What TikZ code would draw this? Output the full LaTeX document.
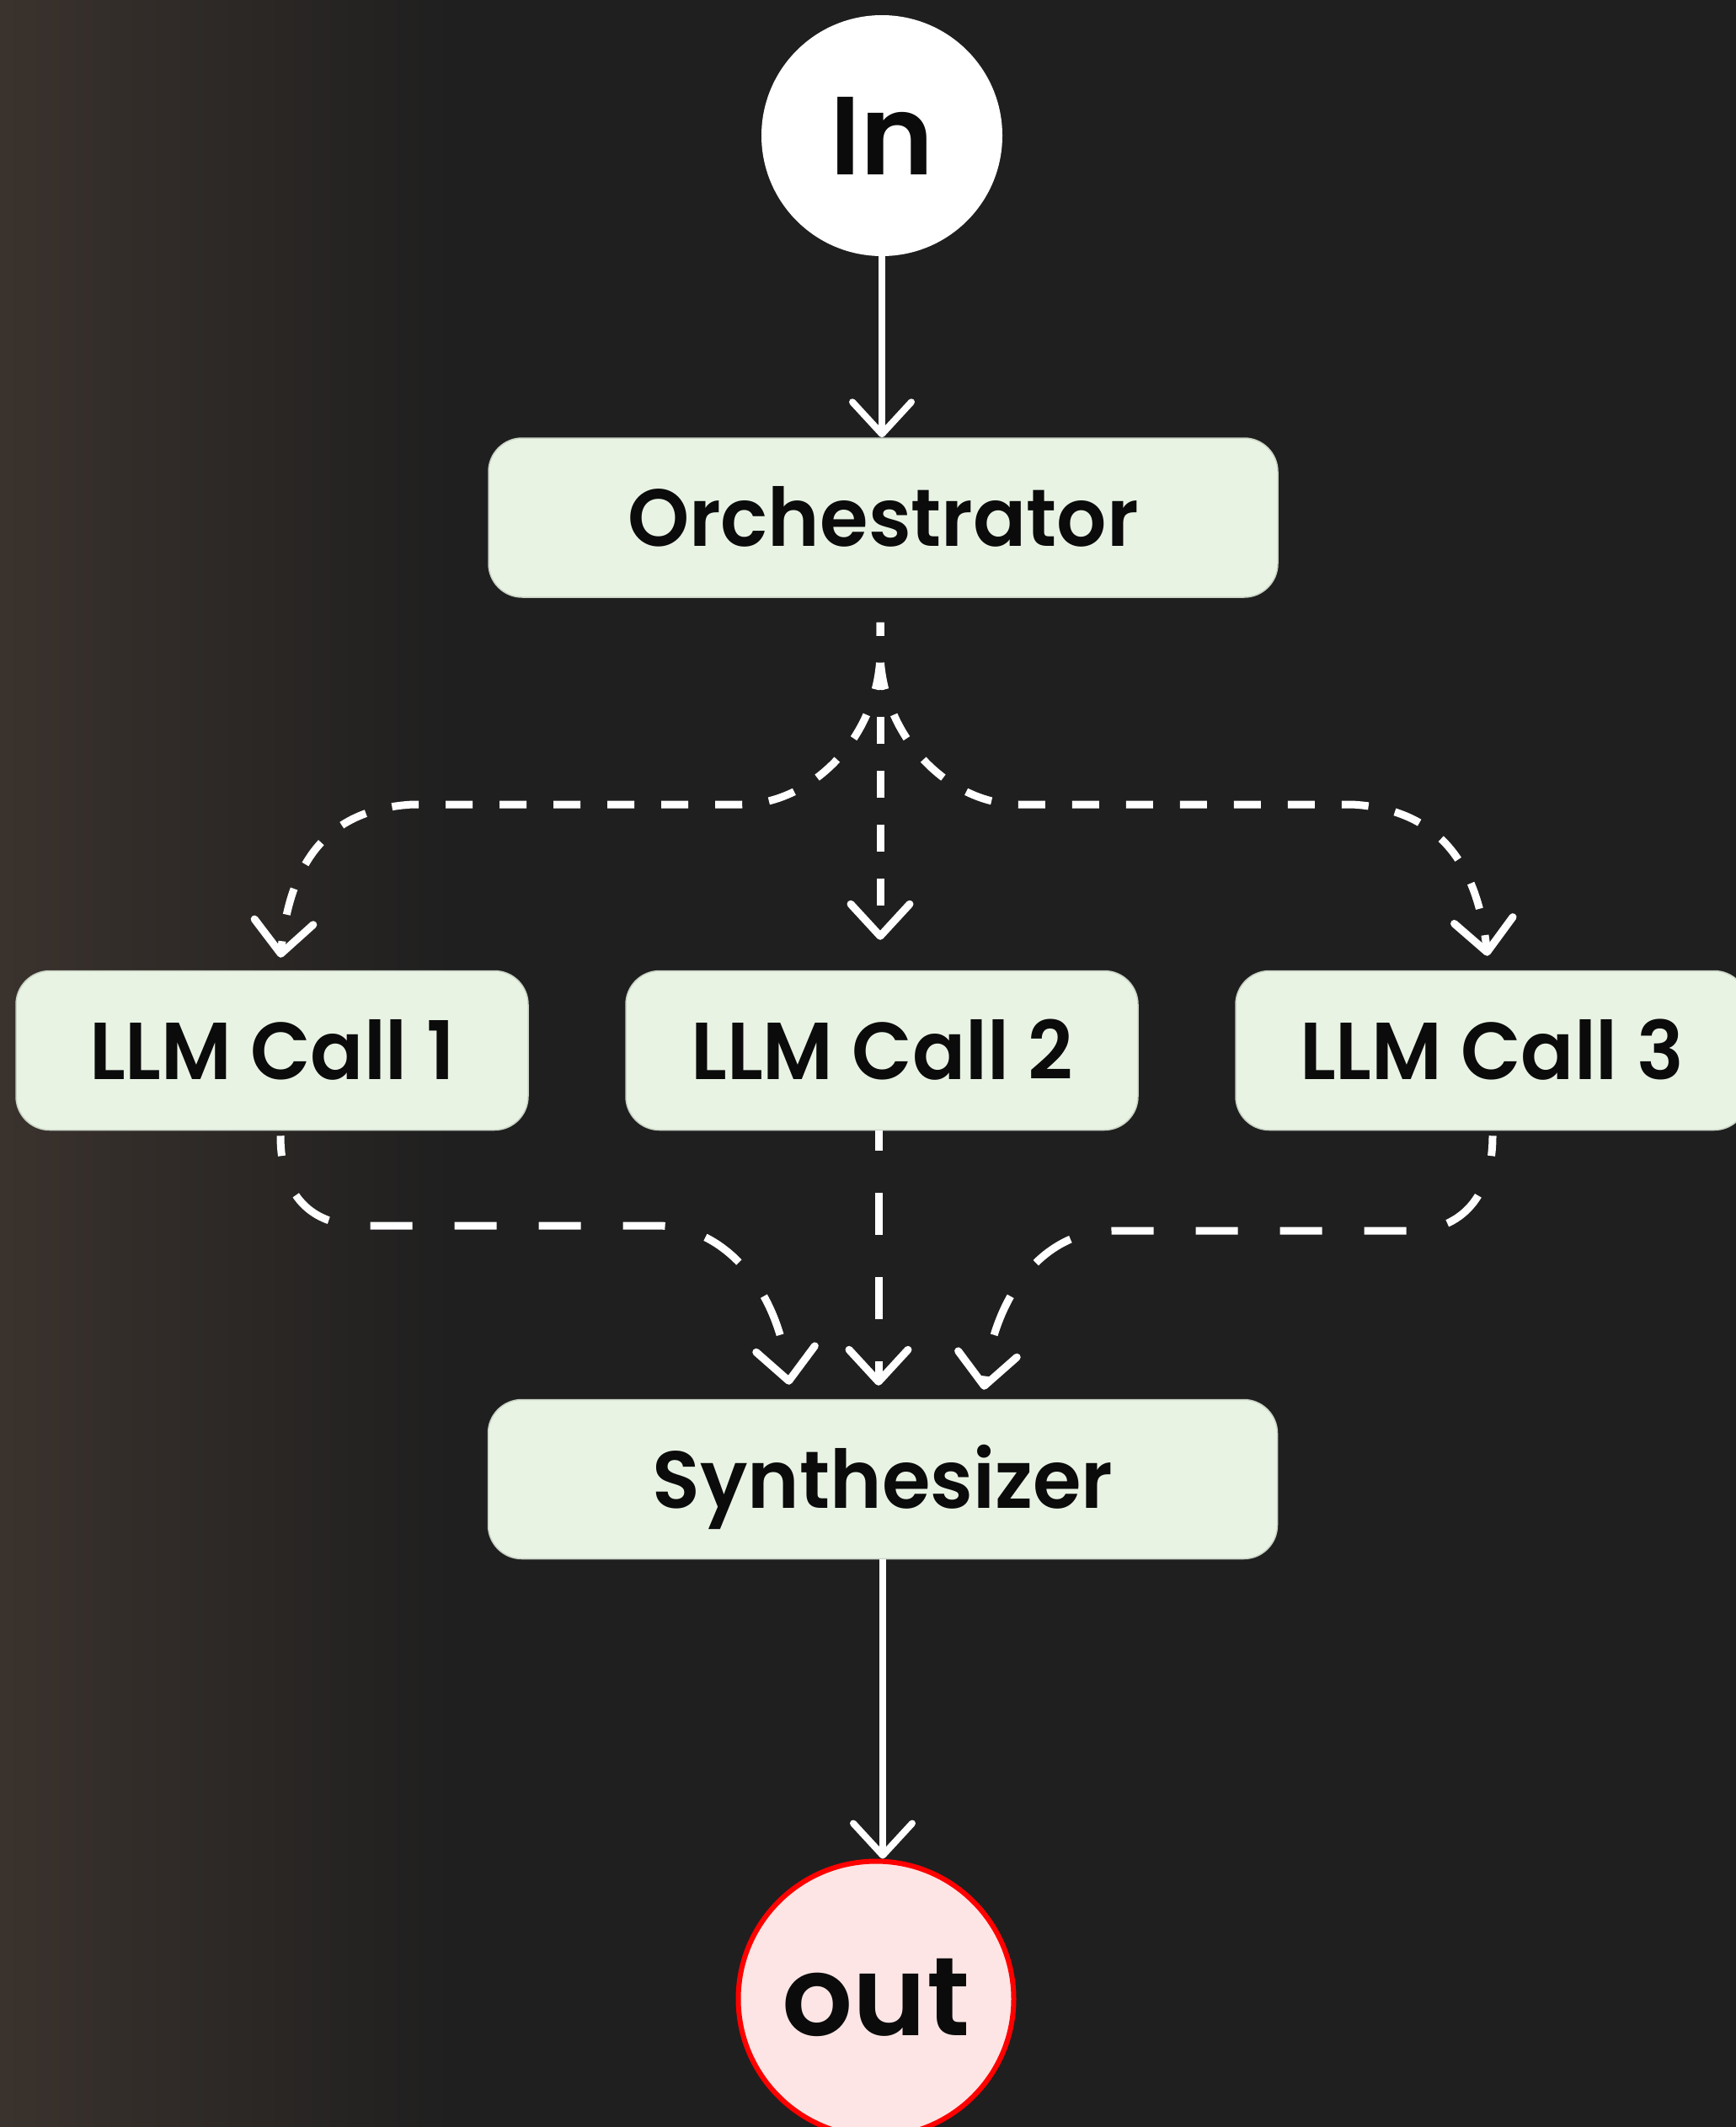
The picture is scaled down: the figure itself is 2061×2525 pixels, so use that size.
\documentclass[tikz,border=0pt]{standalone}
\usepackage{fontspec}
\newfontfamily\popsb{Poppins SemiBold}
\newfontfamily\popsbnarrow{Poppins SemiBold}[FakeStretch=0.97]
\usetikzlibrary{arrows.meta,calc}
\definecolor{bgdark}{HTML}{1F1F1F}
\definecolor{bgwarm}{HTML}{3A322D}
\definecolor{boxfill}{HTML}{E8F3E4}
\definecolor{boxline}{HTML}{C9D3C5}
\definecolor{outfill}{HTML}{FDE5E5}
\definecolor{outred}{HTML}{FF0000}
\definecolor{inkblack}{HTML}{0B0B0B}
\begin{document}
\begin{tikzpicture}[x=1pt,y=-1pt,
  box/.style={rectangle, rounded corners=40pt, fill=boxfill, draw=boxline,
    line width=1.5pt, minimum height=189pt, text=inkblack,
    text height=68pt, text depth=0pt,
    font=\popsbnarrow\fontsize{96}{100}\selectfont},
  wide/.style={box, minimum width=937pt},
  llm/.style={box, minimum width=608pt},
  term/.style={circle, inner sep=0pt, text=inkblack,
    font=\popsb\fontsize{132}{140}\selectfont},
  barb/.tip={Straight Barb[length=38pt,width=70pt,round]},
  flow/.style={draw=white, line width=8pt, -{barb}},
  dflow/.style={flow, line width=9pt, dash pattern=on 32pt off 32pt, dash phase=16pt},
  dflowwide/.style={flow, line width=9pt, dash pattern=on 50pt off 50pt, dash phase=26pt},
]
% background with a warm glow on the left edge
\fill[bgdark] (0,0) rectangle (2061,2525);
\shade[left color=bgwarm, right color=bgdark] (0,0) rectangle (540,2525);
\useasboundingbox (0,0) rectangle (2061,2525);

% nodes
\node[term, fill=white, minimum size=286pt, text height=92pt, text depth=0pt] (in) at (1047,161) {In};
\node[wide] (orch) at (1048.5,614.5) {Orchestrator};
\node[llm] (llm1) at (323,1247) {LLM Call 1};
\node[llm] (llm2) at (1047,1247) {LLM Call 2};
\node[llm] (llm3) at (1771,1247) {LLM Call 3};
\node[wide] (synth) at (1048,1756) {Synthesizer};
\node[term, fill=outfill, draw=outred, line width=6pt, minimum size=327pt,
      text height=86pt, text depth=0pt] (out) at (1040,2373) {out};

% solid connectors
\draw[flow] (in.south) -- (in.south |- orch.north);
\draw[flow] (synth.south) -- (synth.south |- out.north);

% fan-out from the orchestrator
\coordinate (fork) at ($(orch.south)+(-3.5,29)$);
\draw[dflow] (fork) -- ($(llm2.north)+(-2,-36)$);
\draw[dflow] (fork) -- (1045,780) .. controls (1040,880) and (960,955) .. (880,955)
  -- (490,955) .. controls (400,960) and (345,1010) .. ($(llm1.north)+(10,-15)$);
\draw[dflow] (fork) -- (1045,780) .. controls (1050,880) and (1130,955) .. (1210,955)
  -- (1605,955) .. controls (1695,960) and (1752,1010) .. ($(llm3.north)+(-5,-17)$);

% fan-in to the synthesizer
\draw[dflowwide] ($(llm1.south)+(10,6)$) .. controls (333,1420) and (370,1455) .. (430,1455)
  -- (780,1455) .. controls (860,1455) and (925,1530) .. ($(synth.north)+(-111,-17)$);
\draw[dflowwide] ($(llm2.south)+(-4,0)$) -- ($(synth.north)+(-5,-16)$);
\draw[dflowwide] ($(llm3.south)+(1,6)$) .. controls (1772,1420) and (1735,1461) .. (1675,1461)
  -- (1320,1461) .. controls (1240,1461) and (1180,1535) .. ($(synth.north)+(120,-11)$);
\end{tikzpicture}
\end{document}
